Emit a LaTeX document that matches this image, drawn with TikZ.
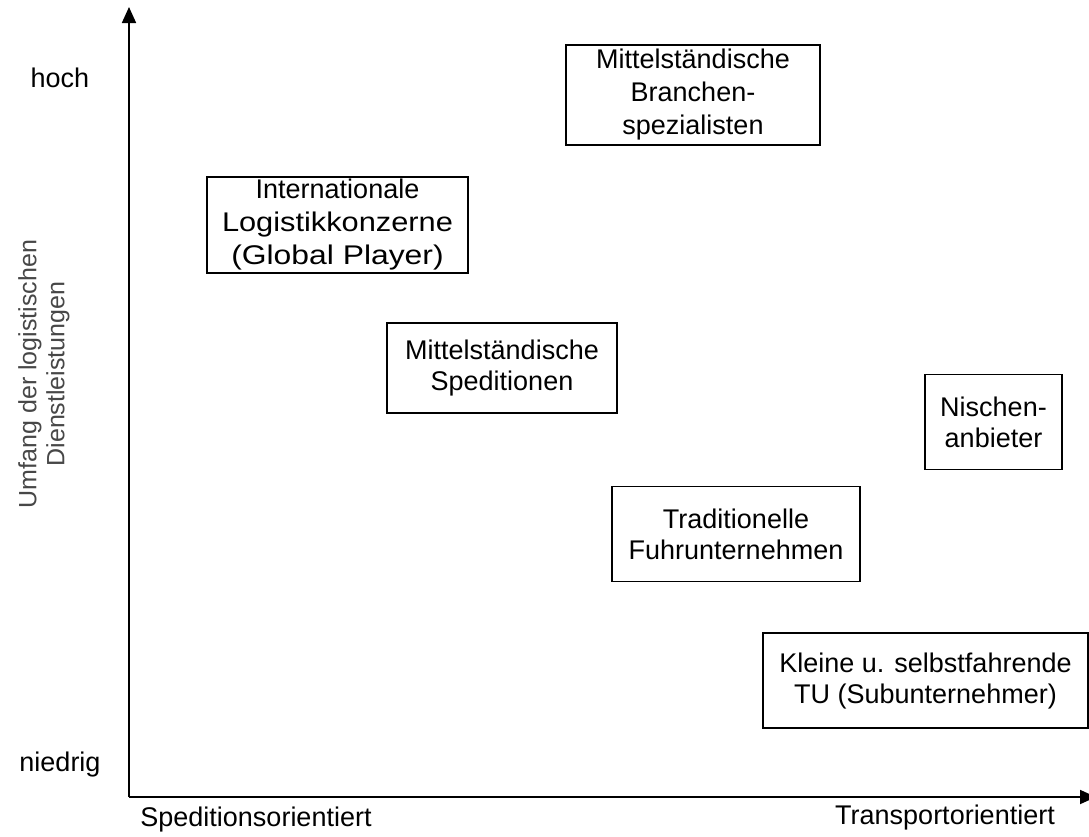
\documentclass[tikz,border=0pt]{standalone}
\usepackage{fontspec}
\setmainfont{Liberation Sans}
\usetikzlibrary{arrows.meta}
\begin{document}
\begin{tikzpicture}[x=1pt,y=-1pt,
  txt/.style={font=\fontsize{27}{31}\selectfont, inner sep=0pt, align=center},
  catbox/.style={txt, draw=black, line width=1.3pt},
  wide/.style={font=\fontsize{27}{33}\selectfont},
  axisline/.style={line width=1.8pt, -{Triangle[width=14pt,length=16pt]}}]
\useasboundingbox (0,0) rectangle (1089,836);

% axes
\coordinate (origin) at (129,797);
\coordinate (ytip) at (129,7);
\coordinate (xtip) at (1096,797);
\draw[axisline] (origin) -- (ytip);
\draw[axisline] (origin) -- (xtip);

% axis labels
\node[txt] (hoch) at (60,78) {hoch};
\node[txt] (niedrig) at (60,765) {niedrig};
\node[txt] (sped) at (256,820) {Speditionsorientiert};
\node[txt] (trans) at (945,818) {Transportorientiert};
\node[txt, text=black!72, rotate=90, font=\fontsize{25}{28}\selectfont] (ylab) at (44,374)
  {Umfang der logistischen\\Dienstleistungen};

% categories
\node[catbox, wide, minimum width=254pt, minimum height=100pt] (branch) at (693,95)
  {Mittelständische\\Branchen-\\spezialisten};
\node[catbox, wide, minimum width=261pt, minimum height=96pt] (global) at (337.5,225)
  {Internationale\\\scalebox{1.14}[1]{Logistikkonzerne}\\\scalebox{1.18}[1]{(Global Player)}};
\node[catbox, minimum width=230pt, minimum height=90pt] (sped2) at (502,368)
  {Mittelständische\\Speditionen};
\node[catbox, minimum width=137pt, minimum height=95pt] (nische) at (993.5,422)
  {Nischen-\\anbieter};
\node[catbox, minimum width=248pt, minimum height=95pt] (fuhr) at (736,534)
  {Traditionelle\\Fuhrunternehmen};
\node[catbox, minimum width=325pt, minimum height=95pt] (klein) at (925.5,680.5)
  {Kleine u. selbstfahrende\\TU (Subunternehmer)};
\end{tikzpicture}
\end{document}
